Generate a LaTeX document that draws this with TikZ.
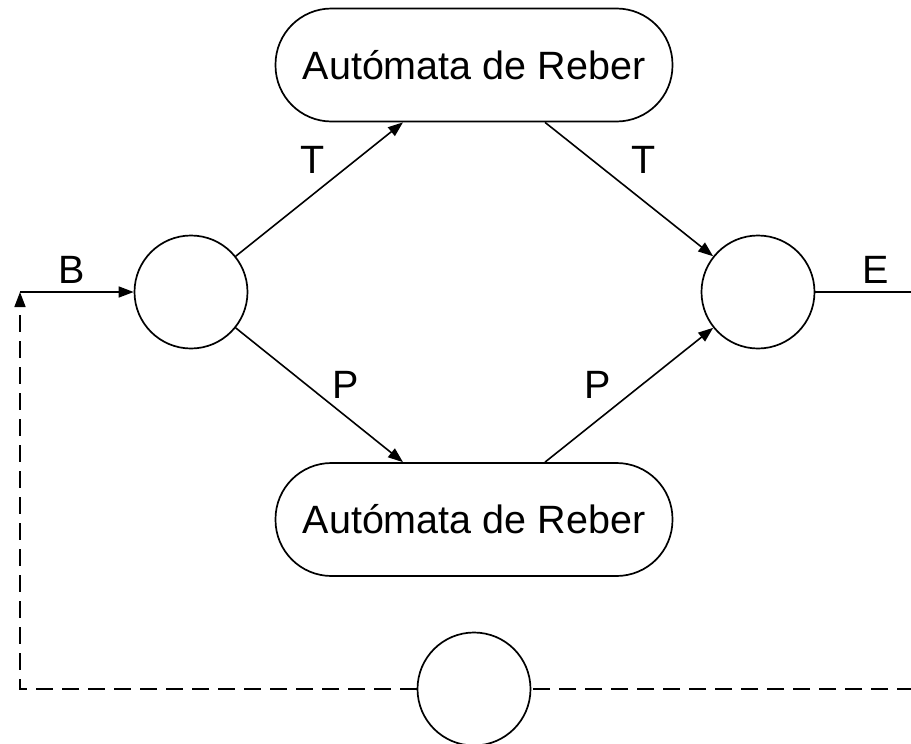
\documentclass[tikz,border=0pt]{standalone}
\usepackage{fontspec}
\setmainfont{Liberation Sans}
\usetikzlibrary{arrows.meta}
\begin{document}
\begin{tikzpicture}[x=1pt,y=-1pt,
  every node/.style={font=\fontsize{39.5}{46}\selectfont},
  state/.style={circle,draw,line width=1.7pt,minimum size=113pt,inner sep=0pt},
  machine/.style={rectangle,draw,line width=1.7pt,rounded corners=56pt,
    minimum width=397pt,minimum height=113pt,inner sep=0pt},
  link/.style={line width=1.6pt,-{Triangle[length=15pt,width=11pt]}},
  feedback/.style={line width=1.6pt,dash pattern=on 17pt off 9pt}]
\useasboundingbox (0,0) rectangle (911,744);
\clip (0,0) rectangle (911,744);

% states and the two embedded automata
\node[state] (s) at (191,292) {};
\node[state] (f) at (758,292) {};
\node[state] (lp) at (474,689) {};
\node[machine] (rt) at (474,65) {Autómata de Reber};
\node[machine] (rb) at (474,519.5) {Autómata de Reber};

% free ends of the input, output and feedback lines
\coordinate (bin) at (20,292);
\coordinate (eout) at (926,292);
\coordinate (corner) at (20,689);
\coordinate (far) at (940,689);

% transitions
\draw[link] (s) -- ([xshift=-71pt]rt.south);
\draw[link] ([xshift=71pt]rt.south) -- (f);
\draw[link] (s) -- ([xshift=-71pt]rb.north);
\draw[link] ([xshift=71pt]rb.north) -- (f);
\draw[link] (bin) -- (s);
\draw[link] (f) -- (eout);

% feedback path
\draw[feedback] (far) -- (lp);
\draw[feedback,-{Triangle[length=15pt,width=11pt]}] (lp) -- (corner) -- (bin);

% symbols on the transitions
\node (lB) at (72,270) {B};
\node (lE) at (876,270) {E};
\node (lT1) at (313,160) {T};
\node (lT2) at (644,160) {T};
\node (lP1) at (346,385) {P};
\node (lP2) at (598,385) {P};
\end{tikzpicture}
\end{document}
